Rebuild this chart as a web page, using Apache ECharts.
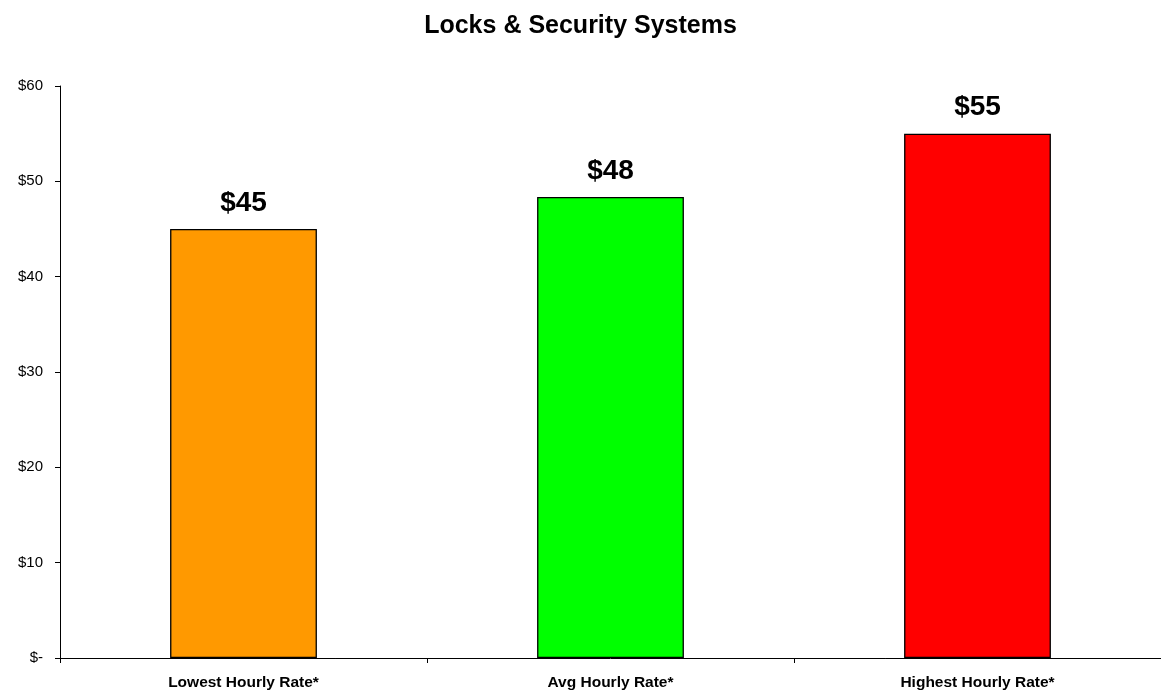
<!DOCTYPE html>
<html>
<head>
<meta charset="utf-8">
<script src="https://cdn.jsdelivr.net/npm/echarts@6/dist/echarts.min.js"></script>
<style>html,body{margin:0;padding:0;background:#fff;}#c{width:1161px;height:691px;}</style>
</head>
<body>
<div id="c"></div>
<script>
var categories = ['Lowest Hourly Rate*', 'Avg Hourly Rate*', 'Highest Hourly Rate*'];
var values = [45, 48.35, 55];
var barColors = ['#FF9900', '#00FF00', '#FF0000'];
var yTicks = [0, 10, 20, 30, 40, 50, 60];

var chart = echarts.init(document.getElementById('c'));
chart.setOption({
  animation: false,
  backgroundColor: '#ffffff',
  title: {
    text: 'Locks & Security Systems',
    left: 'center',
    top: 9,
    textStyle: {fontFamily: 'Liberation Sans, Arial', fontSize: 25, fontWeight: 'bold', color: '#000'}
  },
  grid: {left: 60, right: -2, top: 86, bottom: 33, containLabel: false},
  xAxis: {
    type: 'category',
    data: categories,
    axisLine: {lineStyle: {color: '#000', width: 1}},
    axisTick: {show: true, alignWithLabel: false, length: 5, lineStyle: {color: '#000'}},
    axisLabel: {fontFamily: 'Liberation Sans, Arial', fontSize: 15.5, fontWeight: 'bold', color: '#000', margin: 17}
  },
  yAxis: {
    type: 'value',
    min: yTicks[0],
    max: yTicks[yTicks.length - 1],
    interval: 10,
    splitLine: {show: false},
    axisLine: {show: true, lineStyle: {color: '#000', width: 1}},
    axisTick: {show: true, length: 5, lineStyle: {color: '#000'}},
    axisLabel: {
      fontFamily: 'Liberation Sans, Arial', fontSize: 15, color: '#000', margin: 17,
      formatter: function (v) { return v === 0 ? '$-' : '$' + v; }
    }
  },
  series: [{
    type: 'bar',
    barWidth: '40%',
    data: values.map(function (v, i) {
      return {value: v, itemStyle: {color: barColors[i]}};
    }),
    itemStyle: {borderColor: '#000', borderWidth: 1.3},
    label: {
      show: true,
      position: 'top',
      distance: 12,
      fontFamily: 'Liberation Sans, Arial',
      fontSize: 28,
      fontWeight: 'bold',
      color: '#000',
      formatter: function (p) { return '$' + Math.round(p.value); }
    }
  }]
});
</script>
</body>
</html>
